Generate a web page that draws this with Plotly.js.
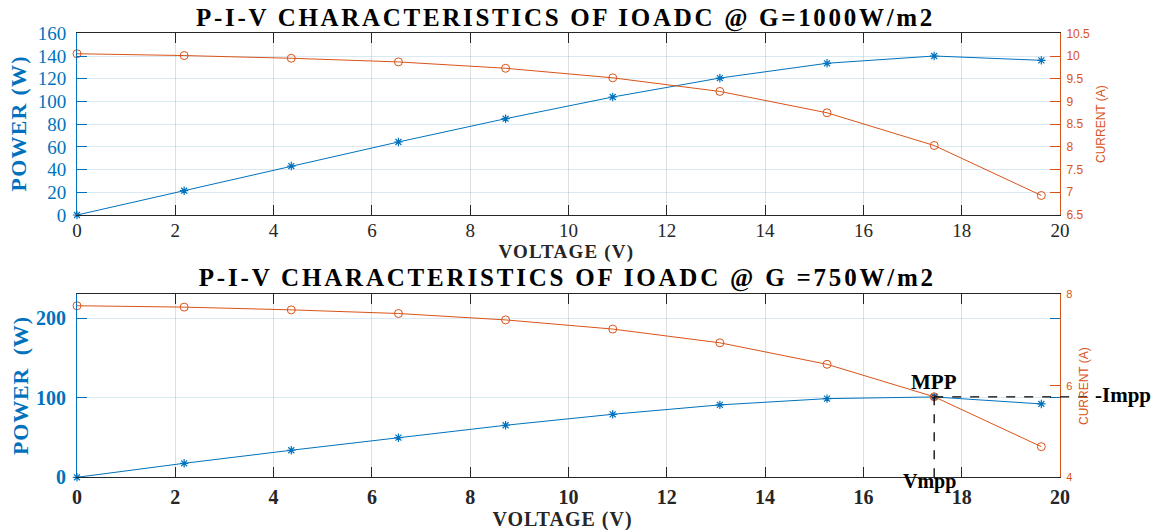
<!DOCTYPE html>
<html>
<head>
<meta charset="utf-8">
<script src="https://cdn.plot.ly/plotly-3.0.1.min.js"></script>
<style>html,body{margin:0;padding:0;background:#fff;}#chart{width:1156px;height:530px;}</style>
</head>
<body>
<div id="chart"></div>
<script>
// ---- data ----
const voltage = [0, 2.18, 4.36, 6.54, 8.72, 10.9, 13.08, 15.26, 17.44, 19.62];
const power1000 = [0, 21.4, 43.1, 64.3, 84.8, 103.9, 120.6, 133.6, 140.0, 136.2];
const current1000 = [10.05, 10.01, 9.95, 9.87, 9.73, 9.52, 9.22, 8.75, 8.03, 6.93];
const power750 = [0, 17.6, 34.0, 49.8, 65.4, 79.2, 91.0, 98.9, 101.0, 92.2];
const current750 = [7.75, 7.72, 7.66, 7.58, 7.44, 7.24, 6.94, 6.47, 5.76, 4.67];
const mppIndex = 8;
const xTicks = [0, 2, 4, 6, 8, 10, 12, 14, 16, 18, 20];
const pTicksTop = [0, 20, 40, 60, 80, 100, 120, 140, 160];
const iTicksTop = [6.5, 7, 7.5, 8, 8.5, 9, 9.5, 10, 10.5];
const pTicksBot = [0, 100, 200];
const iTicksBot = [4, 6, 8];

const W = 1156, H = 530;
const BLUE = '#0072BD', ORANGE = '#D95319', DARK = '#262626';
const SERIF = 'Liberation Serif, Times New Roman, serif';
const SANS = 'Liberation Sans, Arial, sans-serif';
const px = v => v / W;
const py = v => 1 - v / H;
const xDom = [px(77), px(1060)];
const topDom = [py(215), py(33.3)];
const botDom = [py(477.3), py(294.3)];

function powerTrace(y, xa, ya) {
  return {x: voltage, y: y, xaxis: xa, yaxis: ya, type: 'scatter', mode: 'lines+markers',
    line: {color: BLUE, width: 1}, marker: {symbol: 'asterisk-open', size: 7, color: BLUE, line: {color: BLUE, width: 1.2}},
    showlegend: false, cliponaxis: false};
}
function currentTrace(y, xa, ya) {
  return {x: voltage, y: y, xaxis: xa, yaxis: ya, type: 'scatter', mode: 'lines+markers',
    line: {color: ORANGE, width: 1}, marker: {symbol: 'circle-open', size: 8, color: ORANGE, line: {color: ORANGE, width: 1}},
    showlegend: false, cliponaxis: false};
}

const data = [
  powerTrace(power1000, 'x', 'y'),
  currentTrace(current1000, 'x', 'y2'),
  powerTrace(power750, 'x2', 'y3'),
  currentTrace(current750, 'x2', 'y4'),
  {x: [voltage[mppIndex]], y: [power750[mppIndex]], xaxis: 'x2', yaxis: 'y3', type: 'scatter', mode: 'markers',
   marker: {symbol: 'circle', size: 6, color: 'rgba(40,40,60,0.6)'}, showlegend: false, cliponaxis: false}
];

function xAxis(bold, anchor, standoff, size) {
  return {domain: xDom, anchor: anchor, range: [0, 20], tickvals: xTicks, ticks: 'inside', ticklen: 10,
    tickcolor: DARK, showline: true, linecolor: DARK, linewidth: 1, mirror: 'ticks',
    showgrid: true, gridcolor: 'rgba(38,38,38,0.15)', zeroline: false, ticklabelstandoff: standoff,
    tickfont: {family: SERIF, size: size, color: DARK, weight: bold ? 'bold' : 'normal'}};
}
function leftAxis(dom, anchor, range, vals, bold) {
  return {domain: dom, anchor: anchor, range: range, tickvals: vals, ticks: 'inside', ticklen: 10,
    tickcolor: BLUE, showline: true, linecolor: BLUE, linewidth: 1, mirror: 'ticks',
    showgrid: true, gridcolor: 'rgba(0,114,189,0.15)', zeroline: false, ticklabelstandoff: 6,
    tickfont: {family: SERIF, size: bold ? 20 : 19, color: BLUE, weight: bold ? 'bold' : 'normal'}};
}
function rightAxis(over, anchor, range, vals, size) {
  return {overlaying: over, anchor: anchor, side: 'right', range: range, tickvals: vals, ticks: 'inside', ticklen: 10,
    tickcolor: ORANGE, showline: true, linecolor: ORANGE, linewidth: 1, showgrid: false, zeroline: false,
    ticklabelstandoff: 3, tickfont: {family: SANS, size: size, color: ORANGE}};
}

const vm = voltage[mppIndex], pm = power750[mppIndex];
const xPaperOf = v => xDom[0] + (xDom[1] - xDom[0]) * v / 20;

// letter spacing (px) per annotation, matching the wide-set lettering of the original
const spacing = [2.7, 2.8, 1.2, 1.0, 1.2, 0.8, 0, 0, 0, 0, 0];

const layout = {
  width: W, height: H, margin: {l: 0, r: 0, t: 0, b: 0},
  paper_bgcolor: '#fff', plot_bgcolor: '#fff', showlegend: false,
  xaxis: xAxis(false, 'y', -2, 19),
  yaxis: leftAxis(topDom, 'x', [0, 160], pTicksTop, false),
  yaxis2: rightAxis('y', 'x', [6.5, 10.5], iTicksTop, 12),
  xaxis2: xAxis(true, 'y3', 2, 20),
  yaxis3: leftAxis(botDom, 'x2', [0, 230], pTicksBot, true),
  yaxis4: rightAxis('y3', 'x2', [4, 8], iTicksBot, 11),
  shapes: [
    {type: 'line', xref: 'paper', yref: 'y3', x0: xPaperOf(vm), x1: px(1092), y0: pm, y1: pm,
     line: {color: '#000', width: 1.3, dash: 'dash'}},
    {type: 'line', xref: 'x2', yref: 'y3', x0: vm, x1: vm, y0: 0, y1: pm,
     line: {color: '#000', width: 1.3, dash: 'dash'}}
  ],
  annotations: [
    {text: 'P-I-V CHARACTERISTICS OF IOADC @ G=1000W/m2', xref: 'paper', yref: 'paper', x: px(565), y: py(18),
     showarrow: false, xanchor: 'center', yanchor: 'middle', font: {family: SERIF, size: 25, color: '#000', weight: 'bold'}},
    {text: 'P-I-V CHARACTERISTICS OF IOADC @ G =750W/m2', xref: 'paper', yref: 'paper', x: px(567), y: py(278),
     showarrow: false, xanchor: 'center', yanchor: 'middle', font: {family: SERIF, size: 25, color: '#000', weight: 'bold'}},
    {text: 'VOLTAGE (V)', xref: 'paper', yref: 'paper', x: px(566), y: py(252), showarrow: false,
     xanchor: 'center', yanchor: 'middle', font: {family: SERIF, size: 19, color: DARK, weight: 'bold'}},
    {text: 'VOLTAGE (V)', xref: 'paper', yref: 'paper', x: px(562), y: py(519), showarrow: false,
     xanchor: 'center', yanchor: 'middle', font: {family: SERIF, size: 20, color: DARK, weight: 'bold'}},
    {text: 'POWER (W)', xref: 'paper', yref: 'paper', x: px(19), y: py(124), textangle: -90, showarrow: false,
     xanchor: 'center', yanchor: 'middle', font: {family: SERIF, size: 22, color: BLUE, weight: 'bold'}},
    {text: 'POWER\u00a0 (W)', xref: 'paper', yref: 'paper', x: px(20), y: py(386), textangle: -90, showarrow: false,
     xanchor: 'center', yanchor: 'middle', font: {family: SERIF, size: 22, color: BLUE, weight: 'bold'}},
    {text: 'CURRENT (A)', xref: 'paper', yref: 'paper', x: px(1101), y: py(124), textangle: -90, showarrow: false,
     xanchor: 'center', yanchor: 'middle', font: {family: SANS, size: 12, color: ORANGE}},
    {text: 'CURRENT (A)', xref: 'paper', yref: 'paper', x: px(1084), y: py(386), textangle: -90, showarrow: false,
     xanchor: 'center', yanchor: 'middle', font: {family: SANS, size: 12, color: ORANGE}},
    {text: 'MPP', xref: 'x2', yref: 'y3', x: vm, y: pm, yshift: 15, showarrow: false,
     xanchor: 'center', yanchor: 'middle', font: {family: SERIF, size: 21, color: '#000', weight: 'bold'}},
    {text: 'Vmpp', xref: 'x2', yref: 'y3', x: vm, y: 0, yshift: -4, xshift: -5, showarrow: false,
     xanchor: 'center', yanchor: 'middle', font: {family: SERIF, size: 20, color: '#000', weight: 'bold'}},
    {text: '-Impp', xref: 'paper', yref: 'y3', x: px(1093), y: pm, yshift: 2, showarrow: false,
     xanchor: 'left', yanchor: 'middle', font: {family: SERIF, size: 21, color: '#000', weight: 'bold'}}
  ]
};

Plotly.newPlot('chart', data, layout, {staticPlot: true, displayModeBar: false}).then(() => {
  document.querySelectorAll('#chart .annotation').forEach(g => {
    const i = +g.getAttribute('data-index');
    const t = g.querySelector('text');
    if (t && spacing[i]) t.style.letterSpacing = spacing[i] + 'px';
  });
});
</script>
</body>
</html>
